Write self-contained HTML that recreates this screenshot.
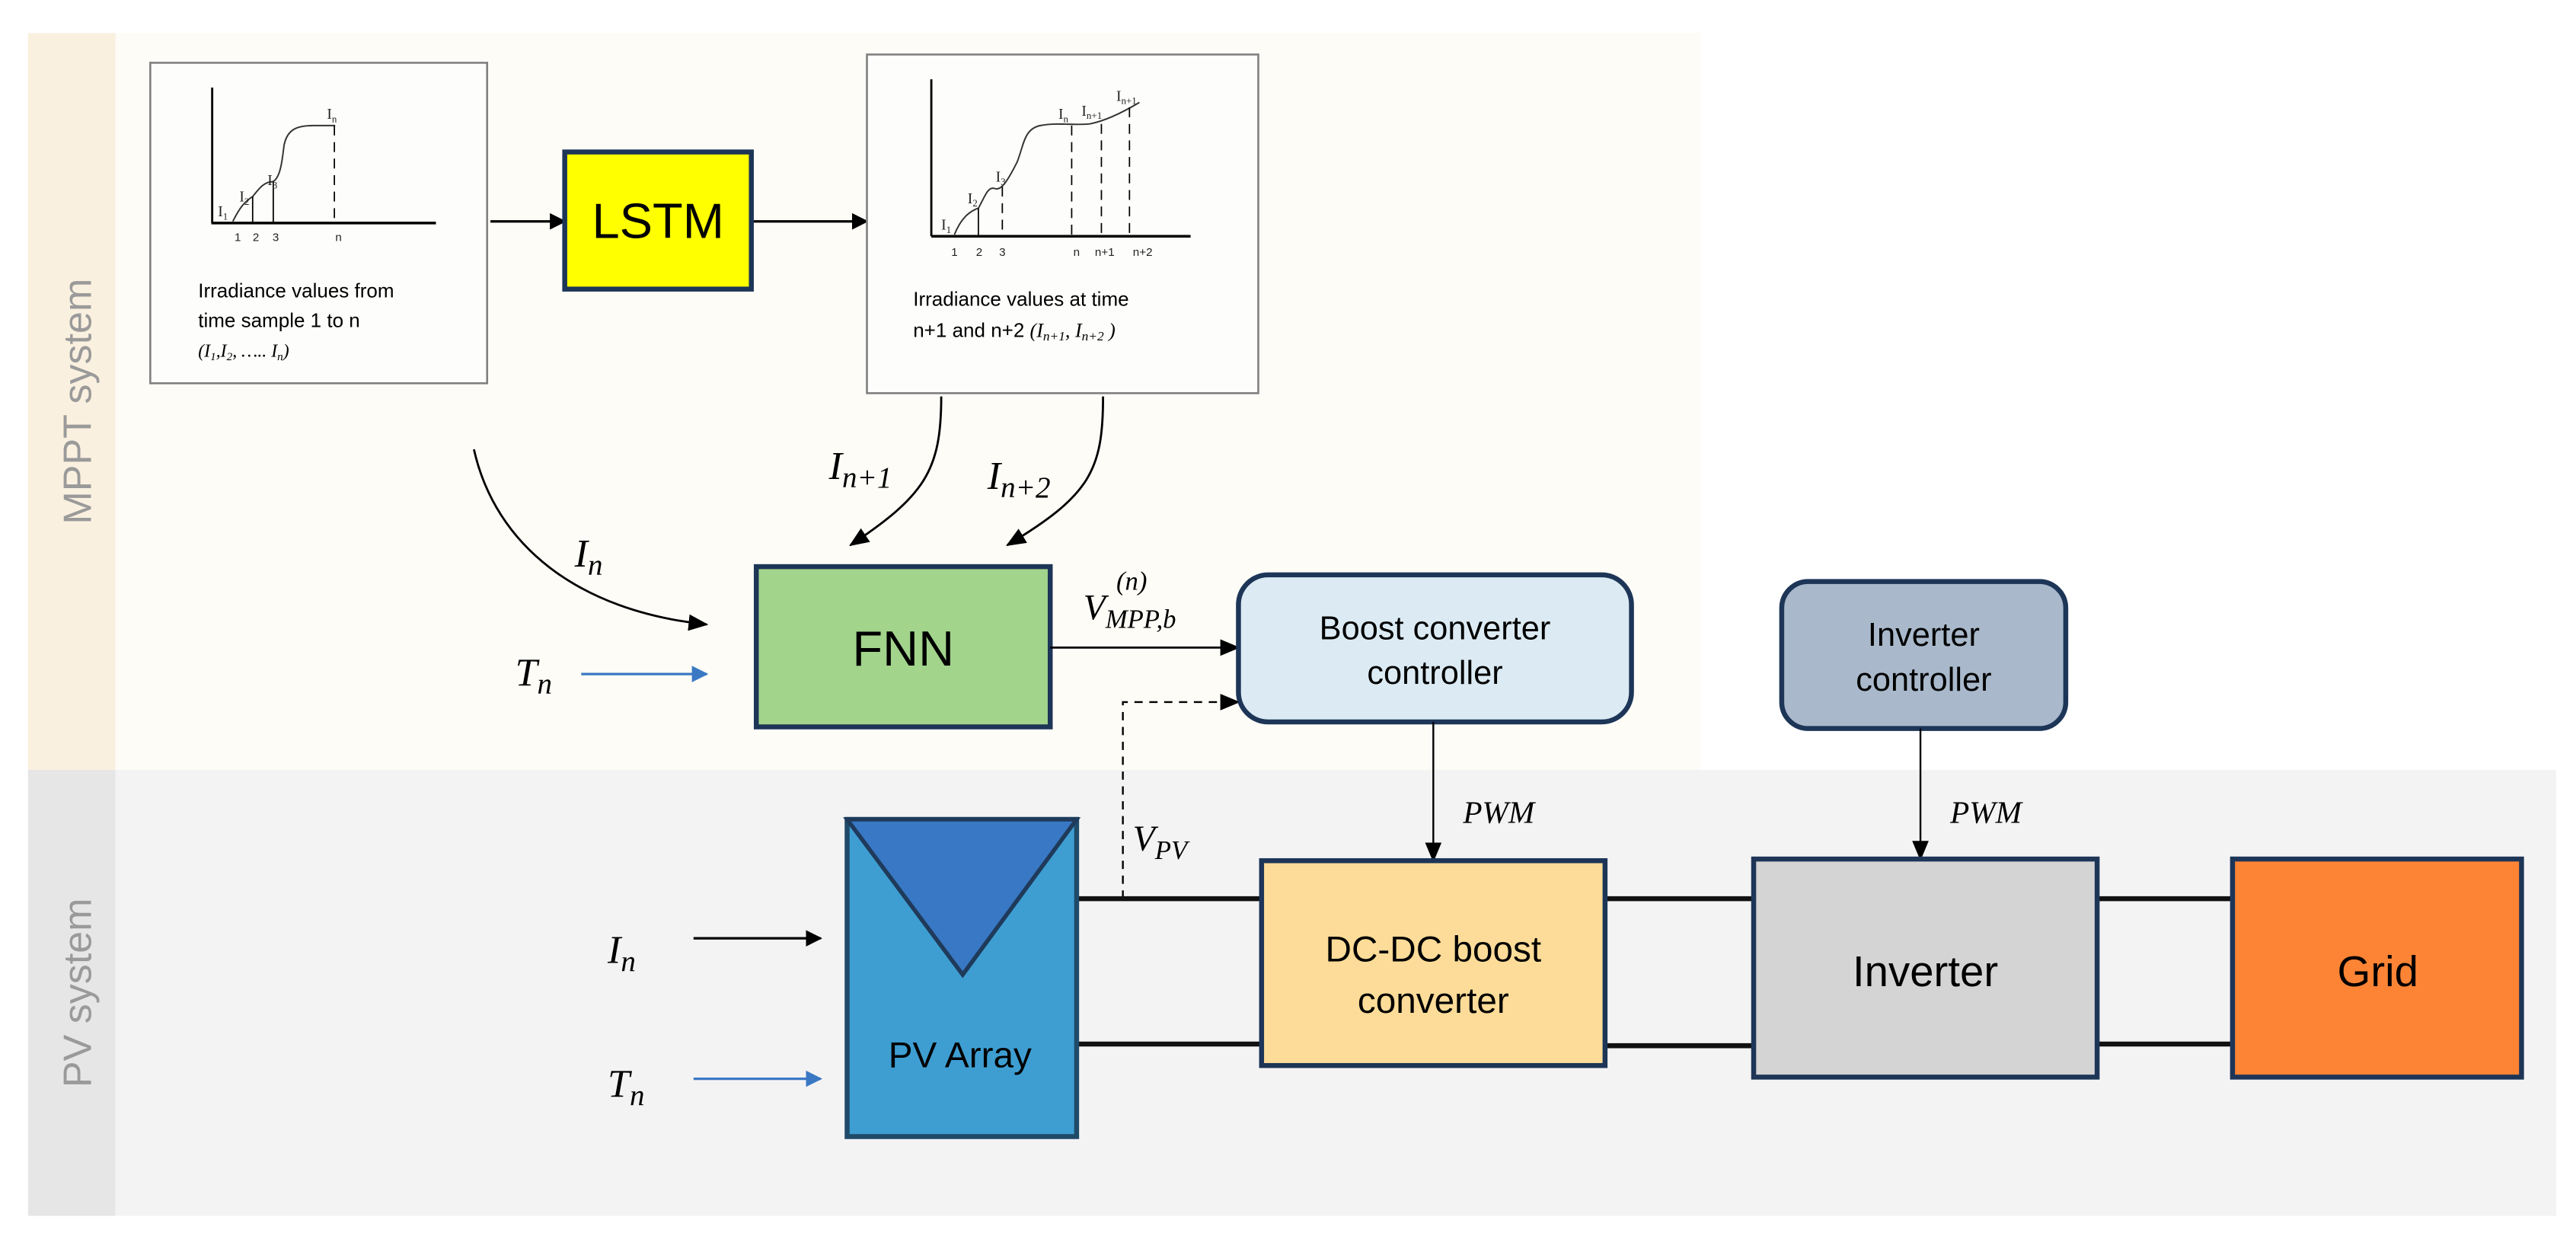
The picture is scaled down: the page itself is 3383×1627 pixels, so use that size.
<!DOCTYPE html>
<html><head><meta charset="utf-8"><style>
html,body{margin:0;padding:0;background:#fff;}
svg{display:block;}
.s{font-family:"Liberation Sans",sans-serif;}
.m{font-family:"Liberation Serif",serif;font-style:italic;}
</style></head><body>
<svg width="3383" height="1627" viewBox="0 0 1560 750" preserveAspectRatio="none" xmlns="http://www.w3.org/2000/svg">
<defs>
<marker id="ab" markerWidth="10" markerHeight="10" refX="9" refY="5" orient="auto" markerUnits="userSpaceOnUse"><path d="M0,0 L10,5 L0,10 z" fill="#000"/></marker>
<marker id="abl" markerWidth="10" markerHeight="10" refX="9" refY="5" orient="auto" markerUnits="userSpaceOnUse"><path d="M0,0 L10,5 L0,10 z" fill="#3a78c4"/></marker>
<marker id="ab2" markerWidth="12" markerHeight="12" refX="11" refY="6" orient="auto" markerUnits="userSpaceOnUse"><path d="M0,1 L12,6 L0,11 z" fill="#000"/></marker>
</defs>
<rect x="0" y="0" width="1560" height="750" fill="#fff"/>
<!-- bands -->
<rect x="17" y="20" width="53" height="446" fill="#faf0df"/>
<rect x="70" y="20" width="960" height="446" fill="#fdfcf7"/>
<rect x="17" y="466" width="53" height="270" fill="#e6e6e6"/>
<rect x="70" y="466" width="1478" height="270" fill="#f4f3f4"/>
<text class="s" transform="translate(55,243) rotate(-90)" text-anchor="middle" font-size="24" fill="#9a9a9a">MPPT system</text>
<text class="s" transform="translate(55,601) rotate(-90)" text-anchor="middle" font-size="24" fill="#9a9a9a">PV system</text>

<!-- left chart box -->
<rect x="91" y="38" width="204" height="194" fill="#fdfdfb" stroke="#808080" stroke-width="1.2"/>
<line x1="128.5" y1="53" x2="128.5" y2="135" stroke="#000" stroke-width="1.3"/>
<line x1="128" y1="135" x2="264" y2="135" stroke="#000" stroke-width="1.6"/>
<path d="M141,134 C145,126 148,122 153,119 C157,114 160,110 165,110 C170,108 171,96 172,88 C174,78 180,76 190,76 L203,76" fill="none" stroke="#333" stroke-width="0.9"/>
<line x1="153" y1="119" x2="153" y2="135" stroke="#000" stroke-width="0.8"/>
<line x1="165.5" y1="110" x2="165.5" y2="135" stroke="#000" stroke-width="0.8"/>
<line x1="202.5" y1="76" x2="202.5" y2="135" stroke="#000" stroke-width="0.8" stroke-dasharray="6,4"/>
<g font-family="Liberation Serif,serif" font-size="9" fill="#222">
<text x="132" y="131">I<tspan font-size="6" dy="2">1</tspan></text>
<text x="145" y="122">I<tspan font-size="6" dy="2">2</tspan></text>
<text x="162" y="112">I<tspan font-size="6" dy="2">3</tspan></text>
<text x="198" y="72">I<tspan font-size="6" dy="2">n</tspan></text>
</g>
<g class="s" font-size="7" fill="#222" text-anchor="middle">
<text x="144" y="146">1</text><text x="155" y="146">2</text><text x="167" y="146">3</text><text x="205" y="146">n</text>
</g>
<g class="s" font-size="12" fill="#000">
<text x="120" y="180">Irradiance values from</text>
<text x="120" y="198">time sample 1 to n</text>
</g>
<text x="120" y="216" font-family="Liberation Serif,serif" font-size="11" font-style="italic">(I<tspan font-size="7" dy="2">1</tspan><tspan dy="-2">,I</tspan><tspan font-size="7" dy="2">2</tspan><tspan dy="-2">, ….. I</tspan><tspan font-size="7" dy="2">n</tspan><tspan dy="-2">)</tspan></text>

<!-- arrows to/from LSTM -->
<line x1="297" y1="134" x2="342" y2="134" stroke="#000" stroke-width="1.5" marker-end="url(#ab)"/>
<line x1="455" y1="134" x2="525" y2="134" stroke="#000" stroke-width="1.5" marker-end="url(#ab)"/>
<rect x="342" y="92" width="113" height="83" fill="#ffff00" stroke="#1d3557" stroke-width="3"/>
<text class="s" x="398.5" y="144" text-anchor="middle" font-size="30">LSTM</text>

<!-- right chart box -->
<rect x="525" y="33" width="237" height="205" fill="#fdfdfb" stroke="#808080" stroke-width="1.2"/>
<line x1="564" y1="48" x2="564" y2="143" stroke="#000" stroke-width="1.3"/>
<line x1="564" y1="143" x2="721" y2="143" stroke="#000" stroke-width="1.6"/>
<path d="M578,142 C582,132 587,128 592.5,126 C596,120 598,113 602,114 C606,116 610,110 616,98 C620,88 620,78 630,76 C640,74 650,76 660,75 C670,73 680,68 690,62" fill="none" stroke="#333" stroke-width="0.9"/>
<line x1="592.5" y1="126" x2="592.5" y2="143" stroke="#000" stroke-width="0.8"/>
<line x1="607" y1="113" x2="607" y2="143" stroke="#000" stroke-width="0.8" stroke-dasharray="6,4"/>
<line x1="649" y1="76" x2="649" y2="143" stroke="#000" stroke-width="0.8" stroke-dasharray="6,4"/>
<line x1="667" y1="75" x2="667" y2="143" stroke="#000" stroke-width="0.8" stroke-dasharray="6,4"/>
<line x1="684" y1="65" x2="684" y2="143" stroke="#000" stroke-width="0.8" stroke-dasharray="6,4"/>
<g font-family="Liberation Serif,serif" font-size="9" fill="#222">
<text x="570" y="139">I<tspan font-size="6" dy="2">1</tspan></text>
<text x="586" y="123">I<tspan font-size="6" dy="2">2</tspan></text>
<text x="603" y="110">I<tspan font-size="6" dy="2">3</tspan></text>
<text x="641" y="72">I<tspan font-size="6" dy="2">n</tspan></text>
<text x="655" y="70">I<tspan font-size="6" dy="2">n+1</tspan></text>
<text x="676" y="61">I<tspan font-size="6" dy="2">n+1</tspan></text>
</g>
<g class="s" font-size="7" fill="#222" text-anchor="middle">
<text x="578" y="155">1</text><text x="593" y="155">2</text><text x="607" y="155">3</text>
<text x="652" y="155">n</text><text x="669" y="155">n+1</text><text x="692" y="155">n+2</text>
</g>
<text class="s" x="553" y="185" font-size="12">Irradiance values at time</text>
<text class="s" x="553" y="204" font-size="12">n+1 and n+2 <tspan font-family="Liberation Serif,serif" font-style="italic">(I<tspan font-size="8" dy="2">n+1</tspan><tspan dy="-2">,  I</tspan><tspan font-size="8" dy="2">n+2</tspan><tspan dy="-2"> )</tspan></tspan></text>

<!-- curves to FNN -->
<path d="M287,272 C300,330 350,370 428,378" fill="none" stroke="#000" stroke-width="1.3" marker-end="url(#ab2)"/>
<text class="m" x="348" y="343" font-size="24">I<tspan font-size="18" dy="5">n</tspan></text>
<line x1="352" y1="408" x2="428" y2="408" stroke="#3a78c4" stroke-width="1.5" marker-end="url(#abl)"/>
<text class="m" x="312" y="415" font-size="24">T<tspan font-size="18" dy="5">n</tspan></text>
<path d="M570,240 C570,285 560,300 515,330" fill="none" stroke="#000" stroke-width="1.3" marker-end="url(#ab2)"/>
<path d="M668,240 C668,285 660,300 610,330" fill="none" stroke="#000" stroke-width="1.3" marker-end="url(#ab2)"/>
<text class="m" x="502" y="290" font-size="24">I<tspan font-size="18" dy="5">n+1</tspan></text>
<text class="m" x="598" y="296" font-size="24">I<tspan font-size="18" dy="5">n+2</tspan></text>

<!-- FNN -->
<rect x="458" y="343" width="178" height="97" fill="#a2d48c" stroke="#1d3557" stroke-width="3"/>
<text class="s" x="547" y="403" text-anchor="middle" font-size="30">FNN</text>
<line x1="636" y1="392" x2="750" y2="392" stroke="#000" stroke-width="1.3" marker-end="url(#ab2)"/>
<text class="m" x="656" y="375" font-size="22">V<tspan font-size="16" dy="5">MPP,b</tspan></text>
<text class="m" x="676" y="357" font-size="16">(n)</text>

<!-- dashed VPV -->
<path d="M680,544 L680,425 L750,425" fill="none" stroke="#000" stroke-width="1.1" stroke-dasharray="5,4" marker-end="url(#ab2)"/>
<text class="m" x="686" y="515" font-size="22">V<tspan font-size="16" dy="5">PV</tspan></text>

<!-- Boost controller -->
<rect x="750" y="348" width="238" height="89" rx="18" fill="#dcebf3" stroke="#1d3557" stroke-width="3"/>
<text class="s" x="869" y="387" text-anchor="middle" font-size="20">Boost converter</text>
<text class="s" x="869" y="414" text-anchor="middle" font-size="20">controller</text>
<!-- Inverter controller -->
<rect x="1079" y="352" width="172" height="89" rx="16" fill="#a9b9cb" stroke="#1d3557" stroke-width="3"/>
<text class="s" x="1165" y="391" text-anchor="middle" font-size="20">Inverter</text>
<text class="s" x="1165" y="418" text-anchor="middle" font-size="20">controller</text>

<line x1="868" y1="437" x2="868" y2="521" stroke="#000" stroke-width="1.1" marker-end="url(#ab2)"/>
<text class="m" x="886" y="498" font-size="19">PWM</text>
<line x1="1163" y1="441" x2="1163" y2="520" stroke="#000" stroke-width="1.1" marker-end="url(#ab2)"/>
<text class="m" x="1181" y="498" font-size="19">PWM</text>

<!-- power lines -->
<g stroke="#111" stroke-width="3">
<line x1="652" y1="544" x2="764" y2="544"/><line x1="652" y1="632" x2="764" y2="632"/>
<line x1="972" y1="544" x2="1062" y2="544"/><line x1="972" y1="633" x2="1062" y2="633"/>
<line x1="1270" y1="544" x2="1352" y2="544"/><line x1="1270" y1="632" x2="1352" y2="632"/>
</g>

<!-- PV array -->
<rect x="513" y="496" width="139" height="192" fill="#3e9ed2" stroke="#1f4a68" stroke-width="3"/>
<path d="M513,496 L652,496 L583,590 z" fill="#3878c4" stroke="#1f3a5a" stroke-width="2.5"/>
<text class="s" x="538" y="646" font-size="22">PV Array</text>
<line x1="420" y1="568" x2="497" y2="568" stroke="#000" stroke-width="1.5" marker-end="url(#ab)"/>
<text class="m" x="368" y="583" font-size="24">I<tspan font-size="18" dy="5">n</tspan></text>
<line x1="420" y1="653" x2="497" y2="653" stroke="#3a78c4" stroke-width="1.5" marker-end="url(#abl)"/>
<text class="m" x="368" y="664" font-size="24">T<tspan font-size="18" dy="5">n</tspan></text>

<!-- DC-DC -->
<rect x="764" y="521" width="208" height="124" fill="#fcdc98" stroke="#1d3557" stroke-width="3"/>
<text class="s" x="868" y="582" text-anchor="middle" font-size="22">DC-DC boost</text>
<text class="s" x="868" y="613" text-anchor="middle" font-size="22">converter</text>
<!-- Inverter -->
<rect x="1062" y="520" width="208" height="132" fill="#d4d4d4" stroke="#1d3557" stroke-width="3"/>
<text class="s" x="1166" y="597" text-anchor="middle" font-size="26">Inverter</text>
<!-- Grid -->
<rect x="1352" y="520" width="175" height="132" fill="#fe8435" stroke="#1d3557" stroke-width="3"/>
<text class="s" x="1440" y="597" text-anchor="middle" font-size="26">Grid</text>
</svg>
</body></html>
